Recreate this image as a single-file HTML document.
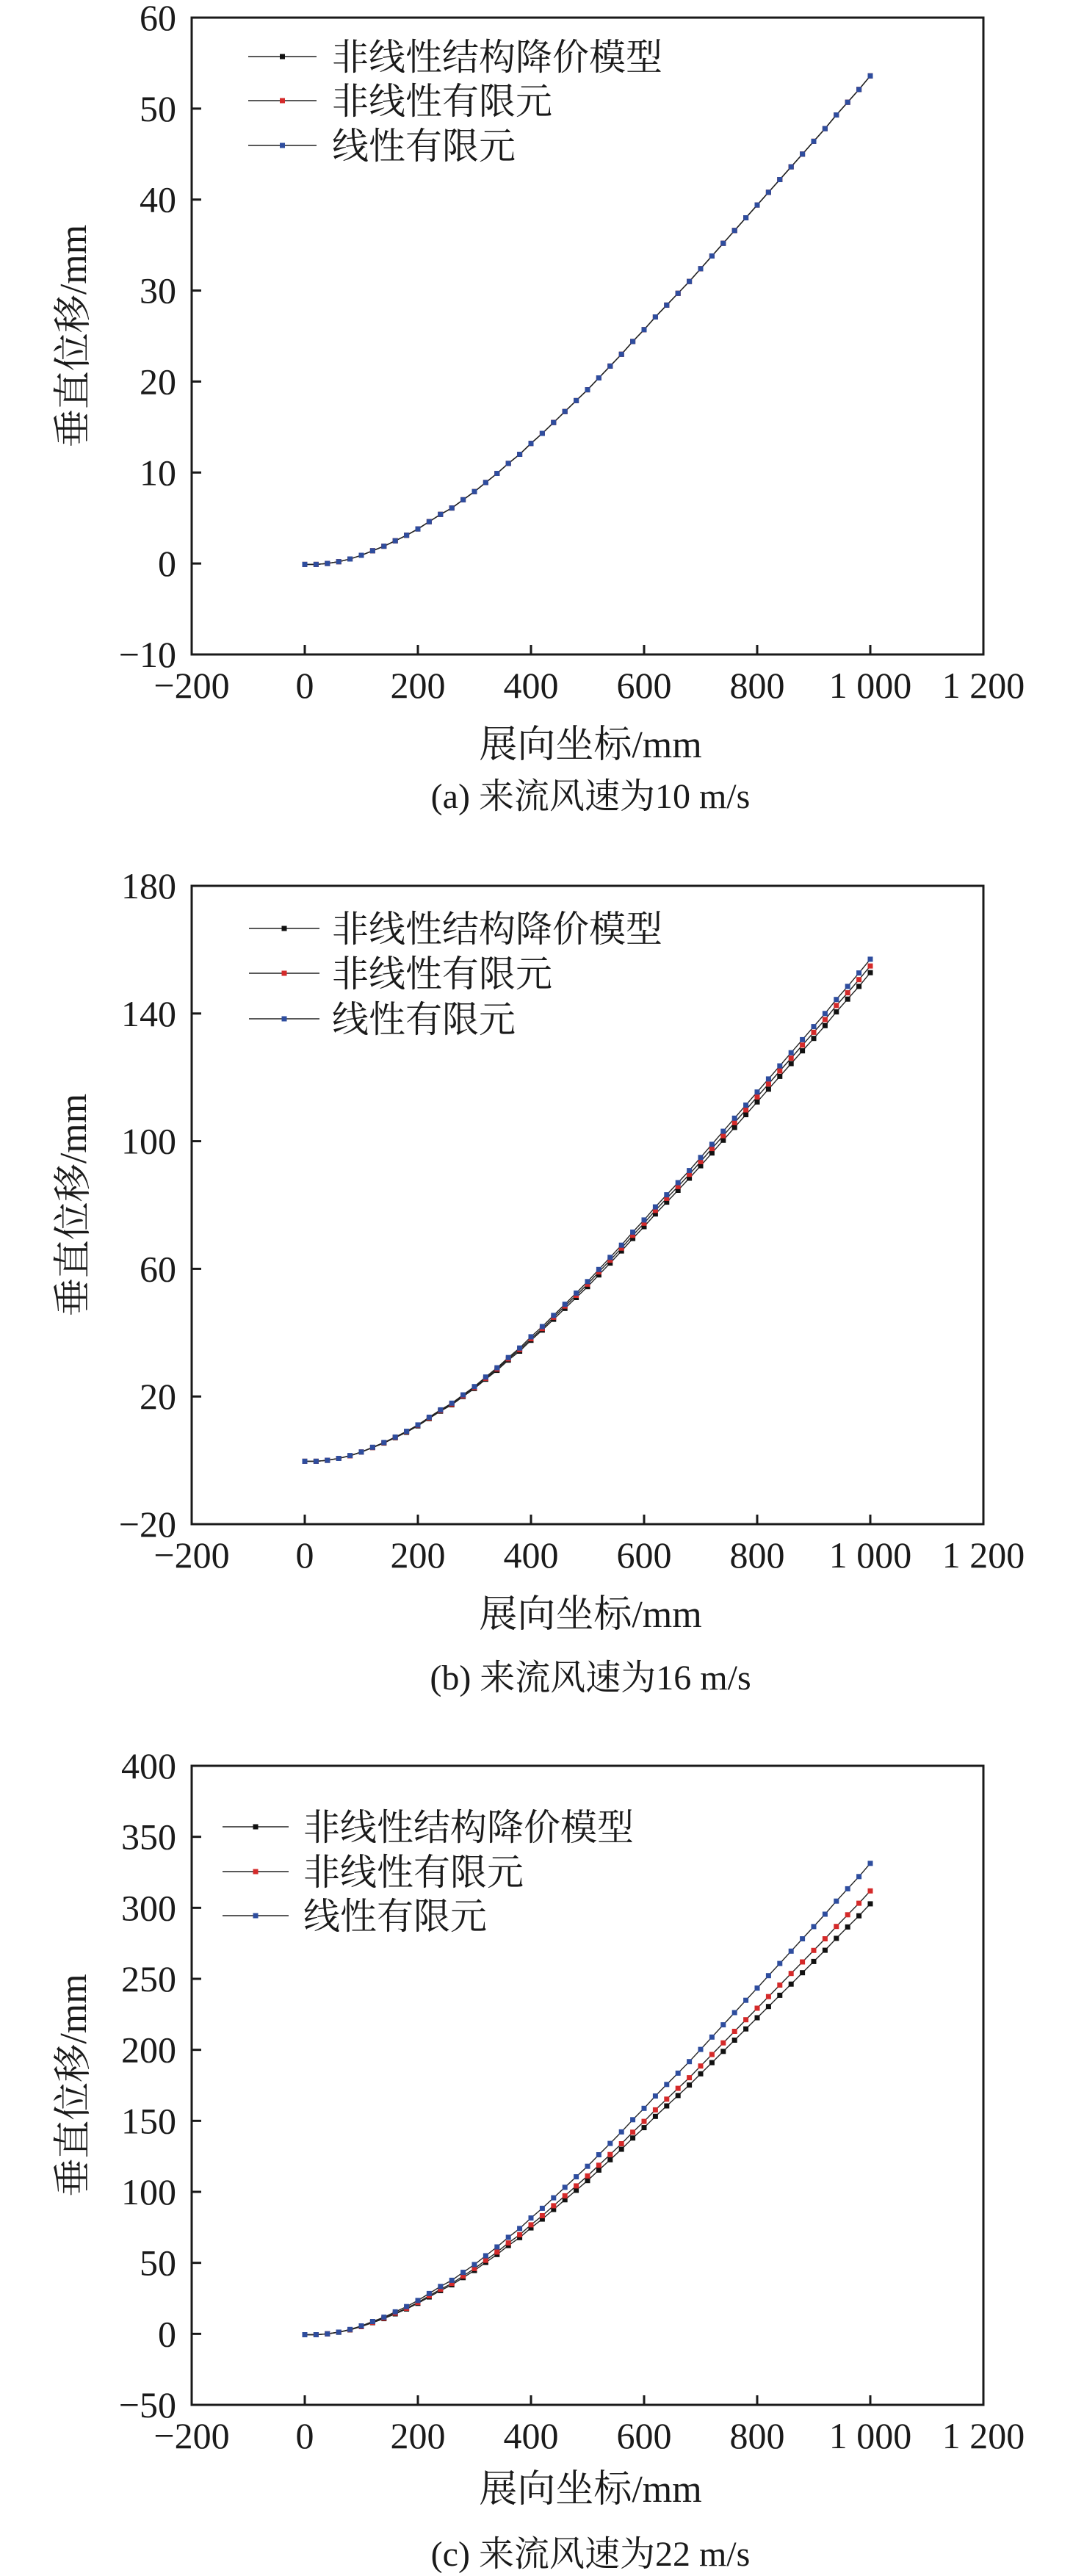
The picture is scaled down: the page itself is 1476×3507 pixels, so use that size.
<!DOCTYPE html>
<html><head><meta charset="utf-8"><style>
html,body{margin:0;padding:0;background:#fff;}
svg{display:block;}
text{font-family:"Liberation Serif","Noto Serif CJK SC",serif;fill:#1a1a1a;}
</style></head><body>
<svg id="fig" width="1476" height="3507" viewBox="0 0 1476 3507" xmlns="http://www.w3.org/2000/svg"></svg>
<script>
const xCats = [0,20,40,60,80,100,120,140,160,180,200,220,240,260,280,300,320,340,360,380,400,420,440,460,480,500,520,540,560,580,600,620,640,660,680,700,720,740,760,780,800,820,840,860,880,900,920,940,960,980,1000];
const seriesNames = ["非线性结构降价模型","非线性有限元","线性有限元"];
const xTicks = [-200,0,200,400,600,800,1000,1200];
const xTickLabels = ["−200","0","200","400","600","800","1 000","1 200"];
const aBlack = [-0.1,-0.1,0,0.2,0.5,0.9,1.4,1.9,2.5,3.1,3.8,4.6,5.4,6.1,7.0,7.9,8.9,9.9,11.0,12.0,13.2,14.3,15.5,16.7,17.9,19.1,20.4,21.7,23.0,24.4,25.7,27.1,28.4,29.7,31.0,32.4,33.8,35.2,36.6,38.0,39.4,40.8,42.2,43.6,45.0,46.4,47.8,49.3,50.7,52.1,53.6];
const aRed = [-0.1,-0.1,0,0.2,0.5,0.9,1.4,1.9,2.5,3.1,3.8,4.6,5.4,6.1,7.0,7.9,8.9,9.9,11.0,12.0,13.2,14.3,15.5,16.7,17.9,19.1,20.4,21.7,23.0,24.4,25.7,27.1,28.4,29.7,31.0,32.4,33.8,35.2,36.6,38.0,39.4,40.8,42.2,43.6,45.0,46.4,47.8,49.3,50.7,52.1,53.6];
const aBlue = [-0.1,-0.1,0,0.2,0.5,0.9,1.4,1.9,2.5,3.1,3.8,4.6,5.4,6.1,7.0,7.9,8.9,9.9,11.0,12.0,13.2,14.3,15.5,16.7,17.9,19.1,20.4,21.7,23.0,24.4,25.7,27.1,28.4,29.7,31.0,32.4,33.8,35.2,36.6,38.0,39.4,40.8,42.2,43.6,45.0,46.4,47.8,49.3,50.7,52.1,53.6];
const bBlack = [-0.3,-0.3,0,0.6,1.4,2.6,4.0,5.4,7.1,8.8,10.8,13.1,15.4,17.4,20.0,22.5,25.4,28.2,31.4,34.2,37.6,40.8,44.2,47.6,51.0,54.4,58.1,61.8,65.6,69.5,73.2,77.2,80.9,84.6,88.4,92.3,96.3,100.3,104.3,108.3,112.3,116.3,120.3,124.3,128.3,132.2,136.2,140.5,144.5,148.5,152.8];
const bRed = [-0.3,-0.3,0,0.6,1.4,2.6,4.0,5.5,7.2,9.0,11.0,13.3,15.6,17.6,20.2,22.8,25.7,28.6,31.8,34.7,38.1,41.3,44.8,48.3,51.7,55.2,59.0,62.7,66.5,70.5,74.3,78.3,82.1,85.8,89.6,93.6,97.7,101.7,105.8,109.8,113.9,117.9,122.0,126.0,130.1,134.1,138.1,142.5,146.5,150.6,154.9];
const bBlue = [-0.3,-0.3,0,0.6,1.5,2.6,4.1,5.6,7.3,9.1,11.1,13.5,15.8,17.9,20.5,23.1,26.1,29.0,32.2,35.2,38.7,41.9,45.4,48.9,52.4,56.0,59.8,63.6,67.4,71.5,75.3,79.4,83.2,87.0,90.8,94.9,99.0,103.1,107.2,111.3,115.4,119.5,123.6,127.7,131.8,135.9,140.0,144.4,148.5,152.7,157.0];
const cBlack = [-0.6,-0.6,0,1.1,2.8,5.1,7.9,10.7,14.1,17.5,21.5,26.0,30.5,34.5,39.6,44.6,50.3,55.9,62.2,67.8,74.6,80.8,87.6,94.4,101.1,107.9,115.3,122.6,130.0,137.9,145.2,153.1,160.5,167.8,175.2,183.1,191.0,198.9,206.8,214.7,222.6,230.5,238.4,246.3,254.3,262.2,270.1,278.5,286.5,294.4,302.8];
const cRed = [-0.6,-0.6,0,1.2,2.9,5.2,8.1,11.1,14.6,18.0,22.1,26.8,31.4,35.5,40.7,46.0,51.8,57.6,64.0,69.8,76.8,83.2,90.2,97.2,104.2,111.2,118.7,126.3,133.9,142.0,149.6,157.7,165.3,172.9,180.4,188.6,196.7,204.9,213.0,221.2,229.3,237.5,245.6,253.8,261.9,270.0,278.2,286.9,295.1,303.2,311.9];
const cBlue = [-0.6,-0.6,0,1.2,3.1,5.6,8.7,11.7,15.5,19.2,23.5,28.4,33.4,37.7,43.3,48.8,55.0,61.2,68.0,74.2,81.6,88.4,95.8,103.2,110.6,118.0,126.1,134.1,142.2,150.8,158.8,167.5,175.6,183.6,191.7,200.3,209.0,217.6,226.2,234.9,243.5,252.2,260.8,269.5,278.2,286.8,295.5,304.7,313.4,322.0,331.3];
const aYTicks = [-10,0,10,20,30,40,50,60];
const bYTicks = [-20,20,60,100,140,180];
const cYTicks = [-50,0,50,100,150,200,250,300,350,400];
const captions = ["(a) 来流风速为10 m/s","(b) 来流风速为16 m/s","(c) 来流风速为22 m/s"];

const NS = "http://www.w3.org/2000/svg";
const svg = document.getElementById('fig');
function mk(tag, attrs, parent){
  const e = document.createElementNS(NS, tag);
  for (const k in attrs) e.setAttribute(k, attrs[k]);
  (parent||svg).appendChild(e); return e;
}
const colors = ["#111111","#d42a2a","#2e4d9e"];

const panels = [
  {id:"a", top:24, bottom:891, ymin:-10, ymax:60, yticks:aYTicks, data:[aBlack,aRed,aBlue], leg:[77,137,198], legX:[338,431], legT:452, xt:1031, cap:1100},
  {id:"b", top:1206, bottom:2075, ymin:-20, ymax:180, yticks:bYTicks, data:[bBlack,bRed,bBlue], leg:[1264,1325,1387], legX:[339,435], legT:452, xt:2215, cap:2300},
  {id:"c", top:2404, bottom:3274, ymin:-50, ymax:400, yticks:cYTicks, data:[cBlack,cRed,cBlue], leg:[2487,2548,2608], legX:[303,393], legT:413, xt:3406, cap:3493}
];
const L = 261, R = 1339;

panels.forEach((p, pi) => {
  const g = mk('g', {});
  
  
  const xs = v => L + (v + 200) / 1400 * (R - L);
  const ys = v => p.bottom - (v - p.ymin) / (p.ymax - p.ymin) * (p.bottom - p.top);
  // series lines
  p.data.forEach((arr, si) => {
    const pts = arr.map((v, i) => xs(xCats[i]).toFixed(1) + ',' + ys(v).toFixed(1)).join(' ');
    const pl = mk('polyline', {points: pts, fill: 'none', stroke: '#222', 'stroke-width': 1.4}, g);
    
    
  });
  p.data.forEach((arr, si) => {
    arr.forEach((v, i) => {
      const r = mk('rect', {x: (xs(xCats[i]) - 3.5).toFixed(1), y: (ys(v) - 3.5).toFixed(1), width: 7, height: 7, fill: colors[si]}, g);
      
      
    });
  });
  // frame
  const fr = mk('rect', {x: L, y: p.top, width: R - L, height: p.bottom - p.top, fill: 'none', stroke: '#1a1a1a', 'stroke-width': 3}, g);
  
  
  // x ticks
  xTicks.forEach((t, i) => {
    const x = xs(t);
    if (t > -200 && t < 1200) {
      const tk = mk('line', {x1: x, x2: x, y1: p.bottom, y2: p.bottom - 13, stroke: '#1a1a1a', 'stroke-width': 3}, g);
      
      
    }
    const tx = mk('text', {x: x, y: p.bottom + 59, 'font-size': 50, 'text-anchor': 'middle'}, g);
    tx.textContent = xTickLabels[i];
    
    
  });
  // y ticks
  p.yticks.forEach(t => {
    const y = ys(t);
    if (t > p.ymin && t < p.ymax) {
      const tk = mk('line', {x1: L, x2: L + 13, y1: y, y2: y, stroke: '#1a1a1a', 'stroke-width': 3}, g);
      
      
    }
    const tx = mk('text', {x: 240, y: y + 17, 'font-size': 50, 'text-anchor': 'end'}, g);
    tx.textContent = t < 0 ? '−' + Math.abs(t) : String(t);
    
    
  });
  // legend
  seriesNames.forEach((n, si) => {
    const y = p.leg[si];
    const ln = mk('line', {x1: p.legX[0], x2: p.legX[1], y1: y, y2: y, stroke: '#222', 'stroke-width': 1.6}, g);
    
    
    const mx = (p.legX[0] + p.legX[1]) / 2;
    const mr = mk('rect', {x: mx - 3.5, y: y - 3.5, width: 7, height: 7, fill: colors[si]}, g);
    
    
    const tx = mk('text', {x: p.legT, y: y + 18, 'font-size': 50}, g);
    tx.textContent = n;
    
    
  });
  // axis titles
  const cy = (p.top + p.bottom) / 2;
  const yt = mk('text', {x: 0, y: 0, 'font-size': 52, 'text-anchor': 'middle', transform: 'translate(117,' + cy + ') rotate(-90)'}, g);
  yt.textContent = '垂直位移/mm';
  
  
  const xt = mk('text', {x: 804, y: p.xt, 'font-size': 52, 'text-anchor': 'middle'}, g);
  xt.textContent = '展向坐标/mm';
  
  
  const cp = mk('text', {x: 804, y: p.cap, 'font-size': 48, 'text-anchor': 'middle'}, g);
  cp.textContent = captions[pi];
  
  
});
</script>
</body></html>
